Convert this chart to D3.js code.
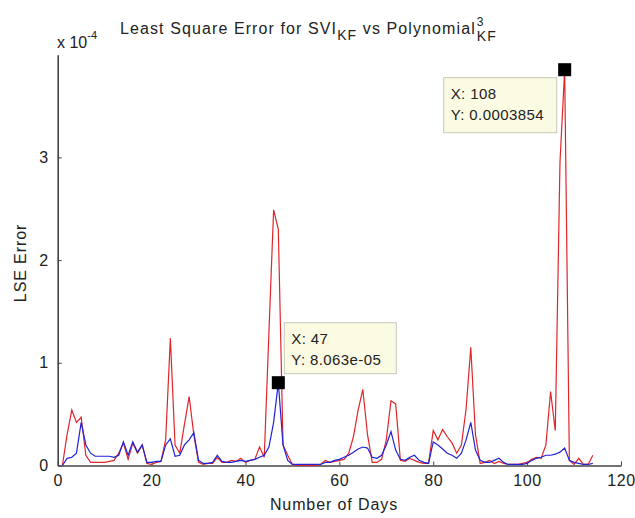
<!DOCTYPE html>
<html><head><meta charset="utf-8">
<script src="https://cdn.jsdelivr.net/npm/d3@7/dist/d3.min.js"></script>
<style>
body { margin: 0; background: #fff; }
text { font-family: "Liberation Sans", Arial, sans-serif; fill: #222; }
</style>
</head><body><svg width="635" height="518"></svg>
<script>

// values are in units of 1e-4 (axis shows "x 10^-4")
var days = d3.range(1, 115);

var redLSE = [
  0.0, 0.3, 0.54, 0.42, 0.47, 0.1, 0.03, 0.03, 0.03, 0.03,
  0.04, 0.05, 0.12, 0.22, 0.06, 0.22, 0.12, 0.2, 0.02, 0.01,
  0.03, 0.04, 0.25, 1.24, 0.2, 0.12, 0.4, 0.67, 0.3, 0.03,
  0.01, 0.02, 0.02, 0.08, 0.03, 0.03, 0.05, 0.04, 0.07, 0.03,
  0.05, 0.06, 0.18, 0.08, 1.3, 2.49, 2.3, 0.2, 0.1, 0.01,
  0.0, 0.0, 0.0, 0.0, 0.0, 0.01, 0.05, 0.03, 0.04, 0.05,
  0.06, 0.12, 0.28, 0.54, 0.74, 0.3, 0.03, 0.03, 0.06, 0.25,
  0.63, 0.6, 0.05, 0.04, 0.07, 0.05, 0.03, 0.02, 0.02, 0.34,
  0.25, 0.35, 0.28, 0.22, 0.12, 0.2, 0.55, 1.15, 0.3, 0.02,
  0.03, 0.05, 0.02, 0.04, 0.02, 0.01, 0.01, 0.01, 0.02, 0.03,
  0.06, 0.08, 0.07, 0.2, 0.72, 0.34, 2.95, 3.854, 0.05, 0.01,
  0.07, 0.01, 0.01, 0.1
];

var blueLSE = [
  0.0, 0.07, 0.08, 0.12, 0.42, 0.2, 0.12, 0.09, 0.09, 0.09,
  0.09, 0.08, 0.1, 0.23, 0.1, 0.23, 0.13, 0.2, 0.03, 0.03,
  0.04, 0.04, 0.2, 0.26, 0.09, 0.1, 0.2, 0.25, 0.32, 0.05,
  0.02, 0.02, 0.03, 0.1, 0.04, 0.03, 0.03, 0.04, 0.05, 0.04,
  0.05, 0.06, 0.08, 0.1, 0.18, 0.42, 0.8063, 0.2, 0.05, 0.01,
  0.01, 0.01, 0.01, 0.01, 0.01, 0.01, 0.03, 0.03, 0.05, 0.06,
  0.08, 0.1, 0.13, 0.16, 0.18, 0.17, 0.08, 0.07, 0.1, 0.2,
  0.33, 0.15, 0.06, 0.05, 0.08, 0.1, 0.05, 0.03, 0.02, 0.23,
  0.2, 0.16, 0.12, 0.1, 0.07, 0.12, 0.25, 0.42, 0.15, 0.05,
  0.03, 0.03, 0.05, 0.07, 0.03, 0.01, 0.01, 0.01, 0.01, 0.02,
  0.05, 0.07, 0.08, 0.1, 0.1, 0.11, 0.13, 0.17, 0.05, 0.03,
  0.02, 0.01, 0.01, 0.02
];

var xTicks = [0, 20, 40, 60, 80, 100, 120];
var yTicks = [0, 1, 2, 3];

// data tips: day, value (1e-4), label lines
var tips = [
  { day: 47, v: 0.8063, lines: ["X: 47", "Y: 8.063e-05"] },
  { day: 108, v: 3.854, lines: ["X: 108", "Y: 0.0003854"] }
];

var svg = d3.select("svg");

var x = d3.scaleLinear().domain([0, 120]).range([57.7, 621]);
var y = d3.scaleLinear().domain([0, 4]).range([465.5, 54.7]);

var line = d3.line()
    .x(function(d) { return x(d[0]); })
    .y(function(d) { return y(d[1]); });

// axes
var xAxis = svg.append("g")
    .attr("transform", "translate(0," + y(0) + ")")
    .call(d3.axisBottom(x).tickValues(xTicks).tickSize(-4).tickPadding(9).tickSizeOuter(0));
var yAxis = svg.append("g")
    .attr("transform", "translate(" + x(0) + ",0)")
    .call(d3.axisLeft(y).tickValues(yTicks).tickFormat(d3.format("d"))
      .tickSize(-4).tickPadding(9).tickSizeOuter(0));

[xAxis, yAxis].forEach(function(a) {
  a.select(".domain").attr("stroke", "#444").attr("stroke-width", 1.6);
  a.selectAll(".tick line").attr("stroke", "#444");
  a.selectAll(".tick text").style("font-size", "16px").attr("fill", "#222")
   .style("letter-spacing", "0.6px")
   .style("font-family", "'Liberation Sans', Arial, sans-serif");
});

// series
svg.append("path")
    .datum(days.map(function(d, i) { return [d, redLSE[i]]; }))
    .attr("d", line).attr("fill", "none")
    .attr("stroke", "#e0262b").attr("stroke-width", 1.2);
svg.append("path")
    .datum(days.map(function(d, i) { return [d, blueLSE[i]]; }))
    .attr("d", line).attr("fill", "none")
    .attr("stroke", "#2222d8").attr("stroke-width", 1.2);

// data tip markers and boxes
var boxes = [
  { dx: 6, dy: -60, w: 112, h: 51 },
  { dx: -121, dy: 8, w: 113, h: 55 }
];
tips.forEach(function(t, i) {
  var px = x(t.day), py = y(t.v), b = boxes[i];
  svg.append("rect")
      .attr("x", px + b.dx).attr("y", py + b.dy)
      .attr("width", b.w).attr("height", b.h)
      .attr("fill", "#fbfbe4").attr("stroke", "#c8c8b8");
  t.lines.forEach(function(s, j) {
    svg.append("text")
        .attr("x", px + b.dx + 7).attr("y", py + b.dy + 21 + j * 21)
        .style("font-size", "15px").style("letter-spacing", "0.4px")
        .attr("fill", "#222").text(s);
  });
  svg.append("rect")
      .attr("x", px - 6.5).attr("y", py - 6.5)
      .attr("width", 13).attr("height", 13)
      .attr("fill", "#000");
});

// exponent label
var ex = svg.append("text").attr("x", 57).attr("y", 48).style("font-size", "16px");
ex.append("tspan").text("x 10");
ex.append("tspan").attr("dy", -9).style("font-size", "11px").text("-4");

// title
var title = svg.append("text").attr("x", 120).attr("y", 34)
    .style("font-size", "16px").style("letter-spacing", "1.1px");
title.append("tspan").text("Least Square Error for SVI");
title.append("tspan").attr("dy", 6).style("font-size", "14px").text("KF");
title.append("tspan").attr("dy", -6).text(" vs Polynomial");
var tEnd = 120 + title.node().getComputedTextLength() + 1;
svg.append("text").attr("x", tEnd).attr("y", 26).style("font-size", "12px").text("3");
svg.append("text").attr("x", tEnd).attr("y", 41).style("font-size", "14px")
    .style("letter-spacing", "1px").text("KF");

// axis labels
svg.append("text")
    .attr("x", 334).attr("y", 510).attr("text-anchor", "middle")
    .style("font-size", "16px").style("letter-spacing", "0.9px").text("Number of Days");
svg.append("text")
    .attr("transform", "translate(26,263) rotate(-90)")
    .attr("text-anchor", "middle")
    .style("font-size", "16px").style("letter-spacing", "0.9px").text("LSE Error");

</script>
</body></html>
